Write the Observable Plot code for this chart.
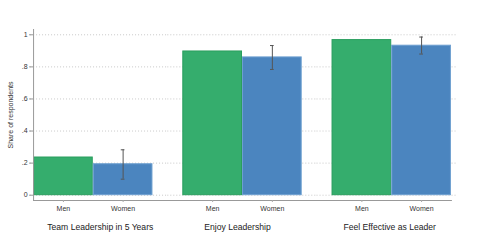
<!DOCTYPE html>
<html>
<head>
<meta charset="utf-8">
<script src="https://cdn.jsdelivr.net/npm/d3@7"></script>
<script src="https://cdn.jsdelivr.net/npm/@observablehq/plot@0.6"></script>
<style>
  html, body { margin: 0; padding: 0; background: #fff; }
  #chart { width: 480px; height: 240px; }
</style>
</head>
<body>
<div id="chart"></div>
<script>
const groups = ["Team Leadership in 5 Years", "Enjoy Leadership", "Feel Effective as Leader"];
const genders = ["Men", "Women"];
const menValues = [0.235, 0.896, 0.967];
const womenValues = [0.193, 0.859, 0.932];
const womenLow = [0.10, 0.784, 0.88];
const womenHigh = [0.283, 0.933, 0.986];
const yTicks = [0, 0.2, 0.4, 0.6, 0.8, 1];
const yTickLabels = ["0", ".2", ".4", ".6", ".8", "1"];

const bars = [];
groups.forEach((g, i) => {
  bars.push({group: g, gender: "Men", value: menValues[i]});
  bars.push({group: g, gender: "Women", value: womenValues[i]});
});
const errs = groups.map((g, i) => ({group: g, gender: "Women", lo: womenLow[i], hi: womenHigh[i]}));

const font = "'Liberation Sans', Arial, Helvetica, sans-serif";

// grid lines per facet, extended to fill the gaps between facets
const gridMarks = groups.map((g, i) => Plot.ruleY(
  yTicks.map(v => ({group: g, v})),
  {
    fx: "group", y: "v",
    stroke: "#c8c8c8", strokeDasharray: "1,2", strokeWidth: 1,
    insetLeft: i === 0 ? -3 : -15,
    insetRight: i === groups.length - 1 ? -5 : -15
  }
));

// group titles below the gender labels
const labelShift = [7, -5, -2];
const groupLabelMarks = groups.map((g, i) => Plot.text([{group: g}], {
  fx: "group", text: "group",
  frameAnchor: "bottom", dy: 29, dx: labelShift[i],
  fontSize: 8.6, fill: "#222"
}));

const chart = Plot.plot({
  width: 480,
  height: 240,
  marginLeft: 28,
  marginRight: 24,
  marginTop: 29,
  marginBottom: 40,
  style: {fontFamily: font, background: "#fff", color: "#333"},
  fx: {domain: groups, paddingInner: 0.2, paddingOuter: 0.034, round: false, axis: null},
  x: {domain: genders, padding: 0, round: false},
  y: {domain: [-0.033, 1.033]},
  color: {domain: genders, range: ["#35ad6d", "#4b85bf"]},
  marks: [
    ...gridMarks,
    Plot.barY(bars, {
      fx: "group", x: "gender", y1: 0, y2: "value",
      fill: "gender",
      stroke: d => d.gender === "Men" ? "#2a9e5e" : "#6d9fd0",
      strokeWidth: 1,
      insetLeft: 0.5, insetRight: 0.5
    }),
    Plot.ruleX(errs, {fx: "group", x: "gender", y1: "lo", y2: "hi", stroke: "#555", strokeWidth: 1}),
    Plot.tickY(errs, {fx: "group", x: "gender", y: "lo", stroke: "#555", strokeWidth: 1, insetLeft: 28, insetRight: 28}),
    Plot.tickY(errs, {fx: "group", x: "gender", y: "hi", stroke: "#555", strokeWidth: 1, insetLeft: 28, insetRight: 28}),
    Plot.frame({facet: "super", anchor: "left", stroke: "#999"}),
    Plot.frame({facet: "super", anchor: "bottom", stroke: "#999"}),
    Plot.axisY({
      ticks: yTicks,
      tickFormat: d => yTickLabels[yTicks.indexOf(d)],
      tickSize: 4,
      tickPadding: 2,
      fontSize: 7,
      stroke: "#999",
      label: "Share of respondents",
      labelAnchor: "center",
      labelArrow: "none",
      labelOffset: 26
    }),
    Plot.axisX({
      tickSize: 2,
      tickPadding: 4,
      fontSize: 7,
      stroke: "#aaa",
      label: null
    }),
    ...groupLabelMarks
  ]
});
document.getElementById("chart").appendChild(chart);
</script>
</body>
</html>
